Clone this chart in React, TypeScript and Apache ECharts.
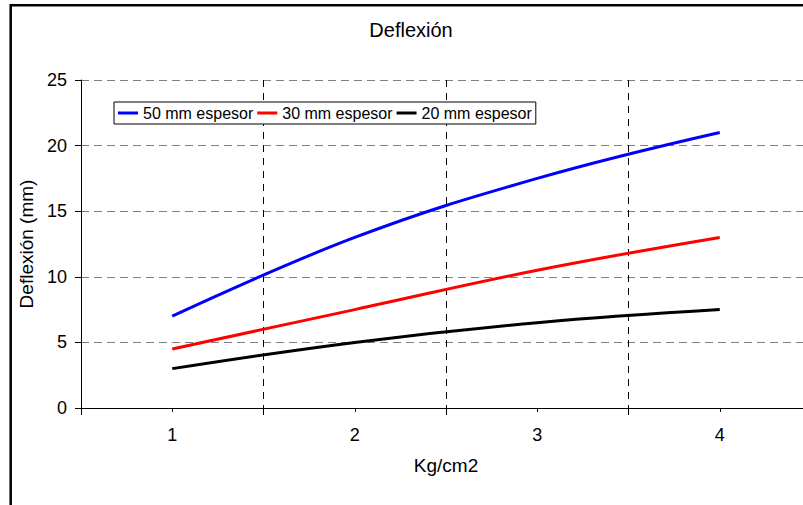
import React, { useEffect, useRef } from "react";
import * as echarts from "echarts";

const categories = ["1", "2", "3", "4"];
const seriesNames = ["50 mm espesor", "30 mm espesor", "20 mm espesor"];
const values50 = [7, 13, 17.5, 21];
const values30 = [4.5, 7.5, 10.5, 13];
const values20 = [3, 5, 6.5, 7.5];
const colors = ["#0000FF", "#FF0000", "#000000"];

const FONT = "'Liberation Sans', Arial, sans-serif";

export default function App() {
  const ref = useRef<HTMLDivElement>(null);
  useEffect(() => {
    if (!ref.current) return;
    const chart = echarts.init(ref.current, undefined, { renderer: "svg" });
    const data = [values50, values30, values20];
    chart.setOption({
      animation: false,
      backgroundColor: "#ffffff",
      textStyle: { fontFamily: FONT },
      title: {
        text: "Deflexión",
        left: 411,
        top: 20,
        textAlign: "center",
        padding: 0,
        textStyle: { fontFamily: FONT, fontSize: 20, fontWeight: "normal", color: "#000" },
      },
      legend: {
        left: 114,
        top: 102,
        orient: "horizontal",
        padding: [3, 4, 3, 4],
        itemGap: 4,
        itemWidth: 20,
        itemHeight: 3,
        icon: "rect",
        borderColor: "#000",
        borderWidth: 1,
        backgroundColor: "#fff",
        textStyle: { fontFamily: FONT, fontSize: 16, color: "#000" },
        data: seriesNames,
      },
      graphic: [
        {
          type: "rect",
          shape: { x: 10.7, y: 5.2, width: 900, height: 600 },
          style: { fill: "none", stroke: "#000", lineWidth: 2.5 },
          silent: true,
          z: 100,
        },
      ],
      grid: { left: 81, top: 80, width: 730, height: 328, containLabel: false },
      xAxis: [
        {
          type: "category",
          data: categories,
          boundaryGap: true,
          position: "bottom",
          name: "Kg/cm2",
          nameLocation: "middle",
          nameGap: 48,
          nameTextStyle: { fontFamily: FONT, fontSize: 19, color: "#000" },
          axisLine: { show: true, lineStyle: { color: "#000", width: 1 } },
          axisTick: { show: true, alignWithLabel: false, length: 7, interval: 0, lineStyle: { color: "#000" } },
          axisLabel: { fontFamily: FONT, fontSize: 18, color: "#000", margin: 18, interval: 0 },
          splitLine: { show: true, interval: 0, lineStyle: { color: "#000", type: [7, 6], width: 1 } },
        },
        {
          type: "category",
          data: categories,
          boundaryGap: true,
          position: "bottom",
          offset: 0,
          axisLine: { show: false },
          axisTick: { show: true, alignWithLabel: true, length: 4, interval: 0, lineStyle: { color: "#000" } },
          axisLabel: { show: false },
          splitLine: { show: false },
        },
      ],
      yAxis: {
        type: "value",
        min: 0,
        max: 25,
        interval: 5,
        name: "Deflexión (mm)",
        nameLocation: "middle",
        nameGap: 23,
        nameTextStyle: { fontFamily: FONT, fontSize: 19, color: "#000" },
        axisLine: { show: true, lineStyle: { color: "#000", width: 1 } },
        axisTick: { show: true, length: 6, lineStyle: { color: "#000" } },
        axisLabel: { fontFamily: FONT, fontSize: 18, color: "#000", margin: 14 },
        splitLine: { show: true, lineStyle: { color: "#808080", type: [8, 5], width: 1 } },
      },
      series: seriesNames.map((name, i) => ({
        name,
        type: "line",
        xAxisIndex: 0,
        data: data[i],
        smooth: 0.4,
        symbol: "none",
        lineStyle: { color: colors[i], width: 3 },
        itemStyle: { color: colors[i] },
      })),
    });
    return () => chart.dispose();
  }, []);
  return (
    <div
      style={{ position: "fixed", left: 0, top: 0, width: 803, height: 505, overflow: "hidden" }}
    >
      <div ref={ref} style={{ width: 830, height: 505 }} />
    </div>
  );
}
